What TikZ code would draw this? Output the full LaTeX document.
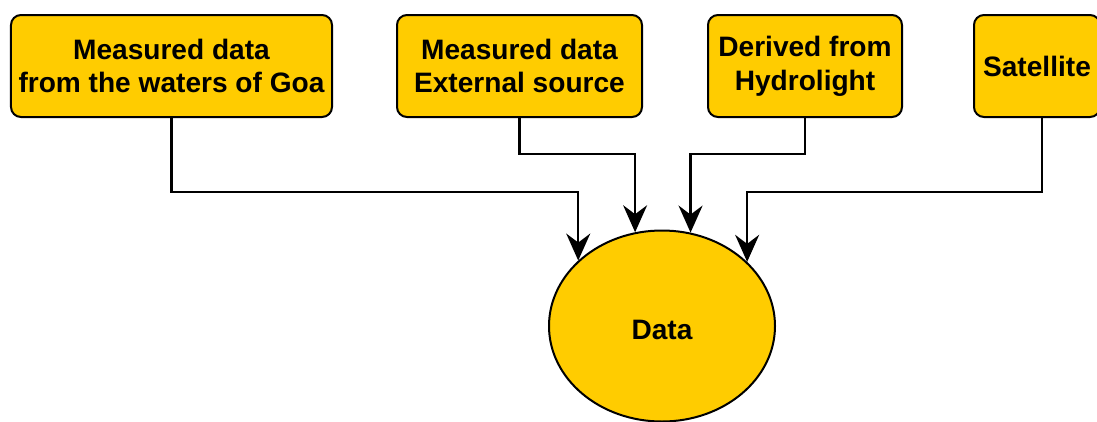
\documentclass[tikz,border=0pt]{standalone}
\usepackage{fontspec}
\setmainfont{Liberation Sans}
\usetikzlibrary{arrows.meta,shapes.geometric,calc}
\definecolor{dyellow}{HTML}{FFCC00}
\begin{document}
\begin{tikzpicture}[x=1bp,y=-1bp,
  box/.style={draw=black, line width=2bp, fill=dyellow, rounded corners=10bp, inner sep=0pt, align=center, minimum height=102bp, font=\fontsize{28.2}{34}\selectfont\bfseries},
  oval/.style={draw=black, line width=2bp, fill=dyellow, ellipse, inner sep=0pt, minimum width=226bp, minimum height=191bp, text height=27bp, font=\fontsize{28.2}{34}\selectfont\bfseries},
  arr/.style={draw=black, line width=2.2bp, arrows={-Stealth[length=27bp,width=24bp,inset=9bp]}},
]
\useasboundingbox (0,0) rectangle (1097,421);
\node[box, minimum width=321bp] (b1) at (171.5,66) {Measured data\\from the waters of Goa};
\node[box, minimum width=245bp] (b2) at (519.5,66) {Measured data\\External source};
\node[box, minimum width=194bp] (b3) at (805,66) {Derived from\\Hydrolight};
\node[box, minimum width=126bp] (b4) at (1037,66) {Satellite};
\node[oval] (data) at (662,326) {Data};
\coordinate (e1) at (data.142.5);
\coordinate (e2) at (data.106.8);
\coordinate (e3) at (data.73.2);
\coordinate (e4) at (data.37.5);
\draw[arr] (b1.south) -- ++(0,74) -| (e1);
\draw[arr] (b2.south) -- ++(0,36) -| (e2);
\draw[arr] (b3.south) -- ++(0,36) -| (e3);
\draw[arr] ($(b4.south)+(5,0)$) -- ++(0,74) -| (e4);
\end{tikzpicture}
\end{document}
